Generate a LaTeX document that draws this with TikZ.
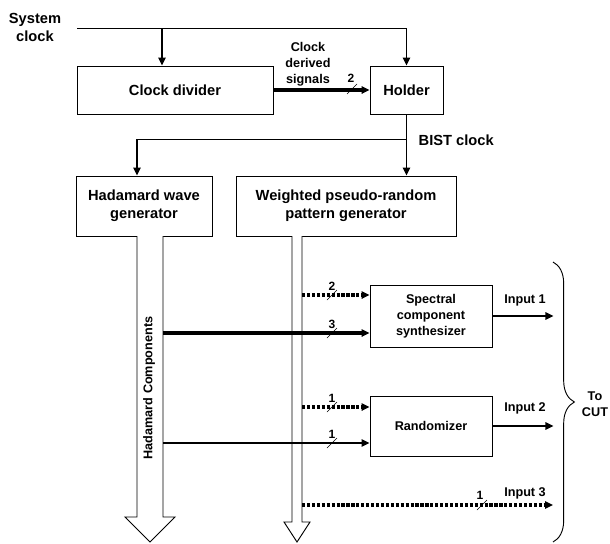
\documentclass[tikz,border=0pt]{standalone}
\usepackage{fontspec}
\setmainfont{Liberation Sans}
\usepackage{tikz}
\usetikzlibrary{arrows.meta,decorations.pathreplacing}

\tikzstyle{bigtxt}=[font=\fontsize{11}{13.5}\selectfont\bfseries]
\tikzstyle{smalltxt}=[font=\fontsize{9.5}{12}\selectfont\bfseries]
\tikzstyle{numtxt}=[font=\fontsize{9}{10}\selectfont\bfseries, inner sep=0pt]
\tikzstyle{block}=[draw, line width=0.7pt, align=center, inner sep=2pt]

\begin{document}
\begin{tikzpicture}[x=0.75pt,y=-0.75pt,>={Triangle[length=6pt,width=5.5pt]}]
\tikzstyle{wire}=[line width=0.7pt]
\tikzstyle{feed}=[line width=1.3pt]
\tikzstyle{bus}=[line width=2.4pt]
\tikzstyle{dotbus}=[line width=2.4pt, dash pattern=on 2.4pt off 1.3pt]
\tikzstyle{tick}=[line width=0.5pt]
\tikzstyle{hollow}=[line width=0.7pt, fill=white]

\useasboundingbox (0,0) rectangle (610,543);

\node[bigtxt,align=center] (sysname) at (35,27) {System\\clock};

\node[block,bigtxt,minimum width=147pt,minimum height=36pt] (divider) at (175,90) {Clock divider};
\node[block,bigtxt,minimum width=54.75pt,minimum height=36pt] (holder) at (406.5,90) {Holder};
\node[block,bigtxt,minimum width=102pt,minimum height=45pt] (hadgen) at (144,206) {Hadamard wave\\generator};
\node[block,bigtxt,minimum width=165pt,minimum height=45pt] (wpgen) at (346,206) {Weighted pseudo-random\\pattern generator};
\node[block,smalltxt,minimum width=91.5pt,minimum height=46.5pt] (synth) at (431,316) {Spectral\\component\\synthesizer};
\node[block,smalltxt,minimum width=91.5pt,minimum height=45pt] (rand) at (431,426) {Randomizer};

% clocks
\coordinate (sysclk) at (77,28);
\coordinate (clkturn) at (sysclk -| holder.north);
\coordinate (divin) at (162,28);
\draw[wire] (sysclk) -- (clkturn);
\draw[feed,->] (clkturn) -- (holder.north);
\draw[feed,->] (divin) -- (divin |- divider.north);

\draw[bus,->] (divider.east) -- (holder.west);
\draw[tick] (347,94) -- (357,84);
\node[numtxt] (n0) at (351,78) {2};
\node[smalltxt,align=center] (derived) at (308,64) {Clock\\derived\\signals};

\coordinate (bist) at (holder.south |- 0,139);
\coordinate (bistturn) at (137,139);
\draw[feed,->] (holder.south) -- (holder.south |- wpgen.north);
\draw[wire] (bist) -- (bistturn);
\draw[feed,->] (bistturn) -- (bistturn |- hadgen.north);
\node[bigtxt,anchor=west] (bistname) at (414,140) {BIST clock};

% wide arrows
\draw[hollow] (137,236) -- (137,517) -- (125,517) -- (150,542) -- (175,517) -- (163,517) -- (163,236);
\draw[hollow] (292,236) -- (292,522) -- (284,522) -- (297,542) -- (310,522) -- (302,522) -- (302,236);
\node[smalltxt,rotate=90] (hadcomp) at (149,388) {Hadamard Components};

\coordinate (wp1) at (302,295);
\coordinate (had1) at (163,333);
\coordinate (wp2) at (302,407);
\coordinate (had2) at (163,443);
\coordinate (wp3) at (302,505);
\coordinate (out3) at (553,505);

\draw[dotbus,->] (wp1) -- (wp1 -| synth.west);
\draw[bus,->] (had1) -- (had1 -| synth.west);
\draw[dotbus,->] (wp2) -- (wp2 -| rand.west);
\draw[feed,->] (had2) -- (had2 -| rand.west);
\draw[dotbus,->] (wp3) -- (out3);

\draw[tick] (327,300) -- (337,290);
\draw[tick] (327,338) -- (337,328);
\draw[tick] (327,412) -- (337,402);
\draw[tick] (327,448) -- (337,438);
\draw[tick] (477,510) -- (487,500);
\node[numtxt] (n1) at (332,286) {2};
\node[numtxt] (n2) at (332,324) {3};
\node[numtxt] (n3) at (332,398) {1};
\node[numtxt] (n4) at (332,434) {1};
\node[numtxt] (n5) at (480,495) {1};

% outputs
\draw[feed,->] (synth.east) -- ++(61,0);
\draw[feed,->] (rand.east) -- ++(61,0);
\node[smalltxt] (in1) at (525,300) {Input 1};
\node[smalltxt] (in2) at (525,408) {Input 2};
\node[smalltxt] (in3) at (525,493) {Input 3};

\draw[wire,decorate,decoration={brace,amplitude=16pt}] (553,262) -- (553,542);
\node[smalltxt,align=center] (cut) at (595,404) {To\\CUT};

\end{tikzpicture}
\end{document}
